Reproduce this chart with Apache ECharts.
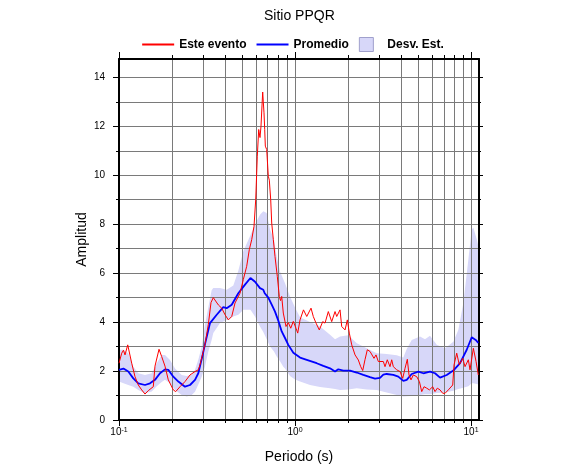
<!DOCTYPE html>
<html><head><meta charset="utf-8">
<script src="https://cdn.jsdelivr.net/npm/echarts@6.0.0/dist/echarts.min.js"></script>
<style>html,body{margin:0;padding:0;background:#fff}#c{width:586px;height:475px}</style>
</head><body><div id="c"></div>
<script>
// ---- data ----
const redPeriod = [0.1,0.1036,0.106,0.1082,0.1121,0.114,0.1181,0.1233,0.1287,0.1346,0.1405,0.1467,0.1566,0.1601,0.1688,0.1748,0.1825,0.1906,0.2035,0.21,0.2222,0.2371,0.2532,0.2703,0.2822,0.2885,0.3081,0.3217,0.3332,0.3434,0.3511,0.367,0.3833,0.4004,0.418,0.437,0.4562,0.487,0.5085,0.5315,0.5499,0.5675,0.5848,0.598,0.6106,0.6219,0.6325,0.6408,0.6493,0.6553,0.6605,0.6666,0.6727,0.6781,0.6905,0.6979,0.7051,0.7145,0.7277,0.7373,0.7529,0.7698,0.7932,0.8143,0.8272,0.8402,0.858,0.8889,0.9161,0.9454,0.978,1.013,1.036,1.068,1.117,1.135,1.166,1.19,1.233,1.27,1.316,1.374,1.437,1.481,1.546,1.616,1.688,1.726,1.802,1.842,1.924,1.983,2.035,2.1,2.193,2.29,2.362,2.425,2.499,2.575,2.668,2.728,2.81,2.886,2.974,3.041,3.175,3.246,3.345,3.465,3.543,3.618,3.783,3.95,4.091,4.217,4.346,4.443,4.561,4.701,4.915,5.09,5.247,5.408,5.601,5.8,6.06,6.244,6.435,6.667,6.907,7.118,7.431,7.871,8.006,8.294,8.58,8.97,9.247,9.654,9.87,10.31,10.68,11.0];
const redAmp = [2.32,2.73,2.85,2.66,3.07,3.0,2.32,1.77,1.43,1.23,1.06,1.2,1.36,2.2,2.89,2.59,2.2,1.64,1.23,1.16,1.36,1.57,1.84,1.98,2.05,2.25,3.1,3.9,4.8,5.0,4.98,4.7,4.57,4.3,4.09,4.23,4.78,5.18,5.74,6.28,6.96,7.37,7.91,9.0,10.78,11.87,11.54,12.0,12.83,13.4,13.0,12.55,11.87,11.19,11.05,10.5,9.96,9.8,9.0,8.05,7.37,6.68,5.87,5.05,4.88,5.05,4.37,3.82,3.98,3.75,4.03,3.75,3.55,4.09,4.5,4.57,4.23,4.23,4.57,4.23,3.96,3.68,4.02,3.96,4.43,4.02,4.43,4.23,4.5,3.82,3.68,4.09,3.55,3.07,2.66,2.45,2.18,2.02,2.47,2.87,2.8,2.8,2.52,2.66,2.39,2.46,2.39,2.18,2.46,2.18,2.46,2.18,2.05,1.98,1.7,2.11,2.48,1.84,1.64,1.84,1.77,1.57,1.16,1.36,1.3,1.23,1.36,1.16,1.3,1.23,1.09,1.09,1.23,1.43,2.25,2.73,2.25,2.52,2.18,2.46,2.05,2.93,2.39,1.84];

const meanPeriod = [0.1,0.106,0.1129,0.1206,0.1287,0.1405,0.15,0.1601,0.171,0.1825,0.1906,0.2035,0.2173,0.2371,0.2532,0.2703,0.2822,0.2973,0.3081,0.3289,0.359,0.3914,0.409,0.437,0.4763,0.5199,0.5582,0.5926,0.6325,0.6605,0.6727,0.7051,0.7373,0.7698,0.8036,0.8402,0.8773,0.9161,0.978,1.068,1.166,1.328,1.448,1.581,1.688,1.762,1.881,2.054,2.243,2.444,2.668,2.848,3.041,3.175,3.319,3.618,3.863,4.124,4.312,4.604,5.019,5.358,5.848,6.244,6.667,7.277,7.933,8.66,9.454,10.09,10.63,11.0];
const meanAmp = [2.05,2.1,1.98,1.7,1.5,1.43,1.5,1.64,1.91,2.07,2.05,1.77,1.57,1.36,1.43,1.64,1.91,2.59,3.1,3.96,4.3,4.61,4.57,4.71,5.18,5.53,5.8,5.65,5.39,5.32,5.18,5.0,4.71,4.43,4.06,3.62,3.35,3.07,2.75,2.55,2.46,2.32,2.21,2.11,1.98,2.07,2.02,2.02,1.94,1.84,1.75,1.69,1.72,1.85,1.88,1.84,1.77,1.6,1.64,1.88,1.98,1.91,1.98,1.91,1.73,1.84,2.02,2.32,2.87,3.38,3.27,3.15];

const bandPeriod = [0.1,0.106,0.1129,0.1206,0.1287,0.1405,0.1534,0.1638,0.1748,0.1825,0.1949,0.2081,0.2272,0.2425,0.2589,0.2703,0.2822,0.2951,0.3081,0.3217,0.336,0.3434,0.3749,0.409,0.4462,0.4763,0.5085,0.5582,0.5926,0.6325,0.6605,0.6905,0.7211,0.7598,0.787,0.8219,0.858,0.8773,0.9368,1.0,1.068,1.217,1.387,1.581,1.688,1.802,2.008,2.243,2.555,2.912,3.319,3.783,4.124,4.312,4.604,5.131,5.478,5.848,6.384,7.118,7.933,8.469,9.044,9.654,10.09,10.31,10.77,11.1];
const bandUpper = [2.87,2.87,2.73,2.18,1.91,1.84,1.91,2.32,2.66,2.66,2.45,2.1,1.84,1.8,1.85,2.05,2.46,3.0,3.9,4.6,5.3,5.39,5.39,5.32,5.5,6.1,6.9,7.55,8.0,8.39,8.53,8.46,7.78,7.37,6.68,6.07,5.75,5.59,5.05,4.6,4.2,4.0,3.82,3.48,3.3,3.41,3.46,3.14,2.93,2.73,2.7,2.65,2.55,2.9,3.27,3.41,3.3,3.44,3.07,2.93,3.2,3.68,4.78,6.55,7.78,7.85,7.4,7.0];
const bandLower = [1.57,1.5,1.43,1.36,1.23,1.09,1.16,1.38,1.55,1.64,1.5,1.23,1.02,0.96,1.02,1.15,1.45,1.77,2.2,2.8,3.27,3.55,3.96,4.09,4.23,4.3,4.5,4.5,4.23,3.82,3.6,3.3,3.0,2.8,2.59,2.4,2.18,2.1,1.8,1.65,1.57,1.43,1.35,1.3,1.27,1.23,1.25,1.3,1.25,1.23,1.12,1.02,0.96,0.97,0.98,1.02,1.05,1.05,1.1,1.12,1.2,1.27,1.32,1.38,1.5,1.5,1.47,1.45];

const xMajorTicks = [0.1, 1, 10];
const xMajorExp = ['-1', '0', '1'];
const xMinorTicks = [0.2,0.3,0.4,0.5,0.6,0.7,0.8,0.9,2,3,4,5,6,7,8,9];
const yMajorTicks = [0,2,4,6,8,10,12,14];
const yMinorTicks = [1,3,5,7,9,11,13];

const titleText = 'Sitio PPQR';
const nameRed = 'Este evento';
const nameMean = 'Promedio';
const nameBand = 'Desv. Est.';

// ---- styling ----
const FONT = '"Liberation Sans", Arial, Helvetica, sans-serif';
const RED = '#ff0000', BLUE = '#0000ff', BAND = '#d7d7f9', GRIDC = '#7a7a7a';

const pairs = (xs, ys) => xs.map((x, i) => [x, ys[i]]);

const chart = echarts.init(document.getElementById('c'), null, {renderer: 'canvas'});

const xBase = {type: 'log', logBase: 10, min: 0.1, max: 11.1, gridIndex: 0};
const yBase = {type: 'value', min: 0, max: 14.75, gridIndex: 0};
const frameLine = {show: true, onZero: false, lineStyle: {color: '#000', width: 2}};
const noLine = {show: false, onZero: false};
const tickStyle = {color: '#000', width: 1};
const gridLine = {show: true, lineStyle: {color: GRIDC, width: 1, type: 'solid'}};

function xLabel(v) {
  let best = 0;
  xMajorTicks.forEach((t, i) => { if (Math.abs(Math.log10(t) - Math.log10(v)) < Math.abs(Math.log10(xMajorTicks[best]) - Math.log10(v))) best = i; });
  return '{b|10}{s|' + xMajorExp[best] + '}';
}

function renderBand(params, api) {
  if (params.dataIndex !== 0) return null;
  const pts = [];
  for (let i = 0; i < bandPeriod.length; i++) pts.push(api.coord([bandPeriod[i], bandUpper[i]]));
  for (let i = bandPeriod.length - 1; i >= 0; i--) pts.push(api.coord([bandPeriod[i], bandLower[i]]));
  return {type: 'polygon', shape: {points: pts}, style: {fill: BAND}, silent: true};
}

const option = {
  animation: false,
  backgroundColor: '#fff',
  textStyle: {fontFamily: FONT},
  title: {
    text: titleText, left: 264, top: 9, padding: 0,
    textStyle: {fontSize: 14, fontWeight: 'normal', color: '#000', fontFamily: FONT}
  },
  legend: {
    top: 37, left: 'center', padding: 0, itemWidth: 32, itemHeight: 14, itemGap: 10,
    selectedMode: false,
    textStyle: {fontSize: 12, fontWeight: 'bold', color: '#000', fontFamily: FONT},
    data: [
      {name: nameRed, icon: 'path://M0 0H32V2H0Z', itemStyle: {color: RED}},
      {name: nameMean, icon: 'path://M0 0H32V2H0Z', itemStyle: {color: BLUE}},
      {name: nameBand, icon: 'path://M0 0H10V10H0Z', itemStyle: {color: BAND, borderColor: '#a0a0cc', borderWidth: 1}}
    ]
  },
  grid: {left: 119, right: 107, top: 59, bottom: 55, containLabel: false},
  xAxis: [
    Object.assign({}, xBase, {
      position: 'bottom', name: 'Periodo (s)', nameLocation: 'middle', nameGap: 30,
      nameTextStyle: {fontSize: 14, color: '#000', fontFamily: FONT},
      axisLine: frameLine,
      axisTick: {show: true, inside: false, customValues: xMajorTicks, length: 6, lineStyle: tickStyle},
      axisLabel: {show: true, customValues: xMajorTicks, margin: 7, formatter: xLabel,
        rich: {
          b: {fontSize: 10, lineHeight: 10, padding: [4, 0, 0, 0], verticalAlign: 'bottom', color: '#000', fontFamily: FONT},
          s: {fontSize: 7, lineHeight: 8, verticalAlign: 'top', color: '#000', fontFamily: FONT}
        }},
      splitLine: gridLine, minorTick: {show: false}, minorSplitLine: {show: false}
    }),
    Object.assign({}, xBase, {
      position: 'bottom', axisLine: noLine,
      axisTick: {show: true, inside: false, customValues: xMinorTicks, length: 3, lineStyle: tickStyle},
      axisLabel: {show: false}, splitLine: gridLine
    }),
    Object.assign({}, xBase, {
      position: 'top', axisLine: frameLine,
      axisTick: {show: true, inside: false, customValues: xMajorTicks, length: 7, lineStyle: tickStyle},
      axisLabel: {show: false}, splitLine: {show: false}
    }),
    Object.assign({}, xBase, {
      position: 'top', axisLine: noLine,
      axisTick: {show: true, inside: false, customValues: xMinorTicks, length: 4, lineStyle: tickStyle},
      axisLabel: {show: false}, splitLine: {show: false}
    })
  ],
  yAxis: [
    Object.assign({}, yBase, {
      position: 'left', name: 'Amplitud', nameLocation: 'middle', nameGap: 30, nameMoveOverlap: false,
      nameTextStyle: {fontSize: 14, color: '#000', fontFamily: FONT},
      axisLine: frameLine,
      axisTick: {show: true, inside: false, customValues: yMajorTicks, length: 6, lineStyle: tickStyle},
      axisLabel: {show: true, customValues: yMajorTicks, margin: 14, fontSize: 10, color: '#000', fontFamily: FONT},
      splitLine: gridLine
    }),
    Object.assign({}, yBase, {
      position: 'left', axisLine: noLine,
      axisTick: {show: true, inside: false, customValues: yMinorTicks, length: 3, lineStyle: tickStyle},
      axisLabel: {show: false}, splitLine: gridLine
    }),
    Object.assign({}, yBase, {
      position: 'right', axisLine: frameLine,
      axisTick: {show: true, inside: false, customValues: yMajorTicks, length: 4, lineStyle: tickStyle},
      axisLabel: {show: false}, splitLine: {show: false}
    }),
    Object.assign({}, yBase, {
      position: 'right', axisLine: noLine,
      axisTick: {show: true, inside: false, customValues: yMinorTicks, length: 2, lineStyle: tickStyle},
      axisLabel: {show: false}, splitLine: {show: false}
    })
  ],
  series: [
    {name: nameBand, type: 'custom', xAxisIndex: 0, yAxisIndex: 0, clip: true, silent: true, z: -1,
     renderItem: renderBand, encode: {x: 0, y: [1, 2]},
     itemStyle: {color: BAND}, color: BAND,
     data: bandPeriod.map((t, i) => [t, bandLower[i], bandUpper[i]])},
    {name: nameMean, type: 'line', xAxisIndex: 0, yAxisIndex: 0, data: pairs(meanPeriod, meanAmp),
     symbol: 'none', silent: true, z: 3, color: BLUE, itemStyle: {color: BLUE}, lineStyle: {color: BLUE, width: 1.8}},
    {name: nameRed, type: 'line', xAxisIndex: 0, yAxisIndex: 0, data: pairs(redPeriod, redAmp),
     symbol: 'none', silent: true, z: 4, color: RED, itemStyle: {color: RED}, lineStyle: {color: RED, width: 1}}
  ]
};
chart.setOption(option);
</script>
</body></html>
